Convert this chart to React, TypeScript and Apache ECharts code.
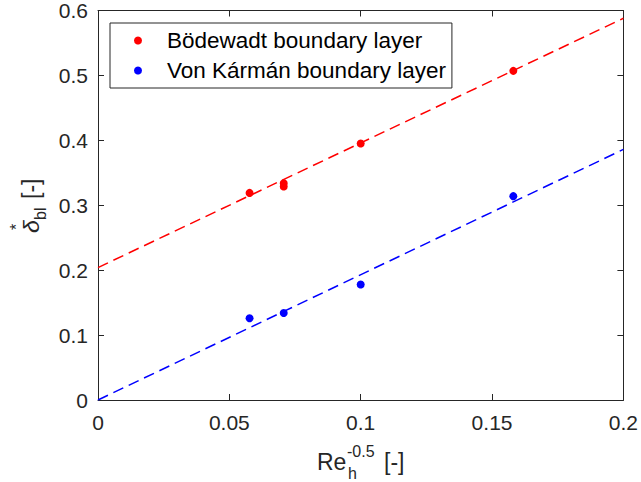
import React, { useEffect, useRef } from "react";
import * as echarts from "echarts";

const xTickValues = [0, 0.05, 0.1, 0.15, 0.2];
const yTickValues = [0, 0.1, 0.2, 0.3, 0.4, 0.5, 0.6];

const bodewadtX = [0.0577, 0.0707, 0.0707, 0.1, 0.1581];
const bodewadtY = [0.319, 0.334, 0.329, 0.395, 0.507];

const karmanX = [0.0577, 0.0707, 0.1, 0.1581];
const karmanY = [0.126, 0.134, 0.178, 0.314];

const bodewadtFitX = [0, 0.2];
const bodewadtFitY = [0.204, 0.588];
const karmanFitX = [0, 0.2];
const karmanFitY = [0, 0.386];

const seriesNames = ["Bödewadt boundary layer", "Von Kármán boundary layer"];

const FONT = "'Liberation Sans', Arial, Helvetica, sans-serif";
const AX = "#262626";

const zip = (xs: number[], ys: number[]) => xs.map((x, i) => [x, ys[i]]);

const txt = (text: string, x: number, y: number, fontSize: number, extra: any = {}) => ({
  type: "text",
  x,
  y,
  style: {
    text,
    fontSize,
    fontFamily: FONT,
    fill: AX,
    textAlign: "left",
    textVerticalAlign: "middle",
    align: "left",
    verticalAlign: "middle",
    ...extra,
  },
});

export default function App() {
  const ref = useRef<HTMLDivElement>(null);
  useEffect(() => {
    if (!ref.current) return;
    const chart = echarts.init(ref.current, undefined, { renderer: "svg" });
    const xMin = xTickValues[0];
    const xMax = xTickValues[xTickValues.length - 1];
    const yMin = yTickValues[0];
    const yMax = yTickValues[yTickValues.length - 1];
    const axisCommon = {
      type: "value" as const,
      axisLine: { show: true, onZero: false, lineStyle: { color: AX, width: 1 } },
      axisTick: { show: true, inside: true, length: 6, lineStyle: { color: AX, width: 1 } },
      splitLine: { show: false },
    };
    chart.setOption({
      animation: false,
      backgroundColor: "#ffffff",
      grid: { left: 98, right: 16, top: 10, bottom: 82, containLabel: false },
      xAxis: [
        {
          ...axisCommon,
          min: xMin,
          max: xMax,
          interval: 0.05,
          position: "bottom",
          axisLabel: { show: true, margin: 12, fontSize: 21, color: AX, fontFamily: FONT },
        },
        {
          ...axisCommon,
          min: xMin,
          max: xMax,
          interval: 0.05,
          position: "top",
          axisLabel: { show: false },
        },
      ],
      yAxis: [
        {
          ...axisCommon,
          min: yMin,
          max: yMax,
          interval: 0.1,
          position: "left",
          axisLabel: { show: true, margin: 10, fontSize: 21, color: AX, fontFamily: FONT },
        },
        {
          ...axisCommon,
          min: yMin,
          max: yMax,
          interval: 0.1,
          position: "right",
          axisLabel: { show: false },
        },
      ],
      legend: {
        data: seriesNames,
        orient: "vertical",
        left: 110,
        top: 23,
        backgroundColor: "#ffffff",
        borderColor: AX,
        borderWidth: 1,
        borderRadius: 0,
        padding: [6, 6, 6, 24],
        itemWidth: 48,
        itemHeight: 8,
        itemGap: 7,
        icon: "circle",
        symbolKeepAspect: true,
        itemStyle: { opacity: 1 },
        textStyle: { fontSize: 22.5, color: "#000", fontFamily: FONT, lineHeight: 23 },
      },
      series: [
        {
          name: "Bödewadt fit",
          type: "line",
          data: zip(bodewadtFitX, bodewadtFitY),
          showSymbol: false,
          symbol: "none",
          lineStyle: { color: "#ff0000", width: 1.5, type: [11, 6] },
          z: 2,
        },
        {
          name: "Von Kármán fit",
          type: "line",
          data: zip(karmanFitX, karmanFitY),
          showSymbol: false,
          symbol: "none",
          lineStyle: { color: "#0000ff", width: 1.5, type: [11, 6] },
          z: 2,
        },
        {
          name: seriesNames[0],
          type: "scatter",
          data: zip(bodewadtX, bodewadtY),
          symbol: "circle",
          symbolSize: 8,
          itemStyle: { color: "#ff0000", opacity: 1 },
          z: 3,
        },
        {
          name: seriesNames[1],
          type: "scatter",
          data: zip(karmanX, karmanY),
          symbol: "circle",
          symbolSize: 8,
          itemStyle: { color: "#0000ff", opacity: 1 },
          z: 3,
        },
      ],
      graphic: [
        {
          type: "group",
          x: 317,
          y: 462,
          children: [
            txt("Re", 0, 0, 23),
            txt("-0.5", 30, -11, 16),
            txt("h", 31, 11, 16),
            txt("[-]", 67, 0, 23),
          ],
        },
        {
          type: "group",
          x: 31,
          y: 233,
          rotation: Math.PI / 2,
          children: [
            txt("δ", 0, 0, 23, { fontStyle: "italic" }),
            txt("*", 3, -15, 16),
            txt("bl", 13, 9, 16),
            txt("[-]", 34, 0, 23),
          ],
        },
      ],
    });
    return () => chart.dispose();
  }, []);
  return (
    <div
      ref={ref}
      style={{ position: "fixed", left: 0, top: 0, width: 641, height: 482, background: "#fff" }}
    />
  );
}
